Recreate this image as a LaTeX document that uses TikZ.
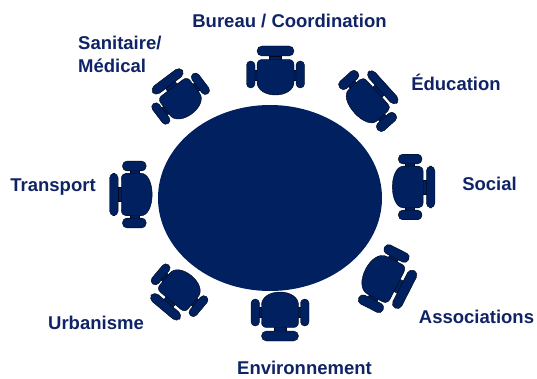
\documentclass[tikz,border=0pt]{standalone}
\usepackage{fontspec}
\setmainfont{Liberation Sans}
\usetikzlibrary{shapes.geometric}
\definecolor{navy}{HTML}{002060}
\definecolor{labelblue}{HTML}{0F2366}

\begin{document}
\begin{tikzpicture}[
    x = 1pt,
    y = 1pt,
    part/.style={draw=black!80!navy, line width=0.4pt, fill=navy},
    table/.style={draw=none, fill=navy, ellipse, inner sep=0pt, minimum width=224pt, minimum height=186pt},
    label/.style={text=labelblue, font=\bfseries\fontsize{18.5}{23}\selectfont, inner sep=0pt},
    chair/.pic={
        % neck and arm links
        \draw[part] (-6, 16) rectangle (6, 21);
        \draw[part] (-21, -3) rectangle (21, 7);
        % back and arms
        \draw[part, rounded corners=5pt] (-18.5, 21) rectangle (18.5, 31);
        \draw[part, rounded corners=4.2pt] (-29, -11) rectangle (-20.5, 16);
        \draw[part, rounded corners=4.2pt] (20.5, -11) rectangle (29, 16);
        % seat
        \draw[part] (0, 17.5) -- (-13, 17.5) .. controls (-16.5, 17.5) and (-18.5, 15.5) .. (-18.5, 12)
            -- (-18.5, -5) .. controls (-18.5, -13) and (-10, -18) .. (0, -18)
            .. controls (10, -18) and (18.5, -13) .. (18.5, -5)
            -- (18.5, 12) .. controls (18.5, 15.5) and (16.5, 17.5) .. (13, 17.5) -- cycle;
    }
]
    \useasboundingbox (0, 0) rectangle (537, 378);

    % Table
    \node (table) at (270, 180) [table] {};

    % Chairs
    \pic at (275.5, 301) {chair};
    \pic[rotate=-48, xscale=1.14, yscale=0.87] at (366, 275.6) {chair};
    \pic[rotate=-90, xscale=1.13, yscale=0.87] at (408, 191) {chair};
    \pic[rotate=-117, xscale=1.14, yscale=1] at (381.5, 100.5) {chair};
    \pic[rotate=180] at (280, 68) {chair};
    \pic[rotate=140, yscale=0.92] at (181, 89.5) {chair};
    \pic[rotate=90, xscale=1.15, yscale=0.87] at (136.5, 183.5) {chair};
    \pic[rotate=37, yscale=0.92] at (182, 277.5) {chair};

    % Labels
    \node (bureau) at (289.5, 357) [label] {Bureau / Coordination};
    \node (sanitaire) at (78, 324) [label, anchor=west, align=left] {Sanitaire/\\Médical};
    \node (education) at (456, 296) [label] {Éducation};
    \node (social) at (489.5, 194) [label] {Social};
    \node (transport) at (53, 191) [label] {Transport};
    \node (associations) at (476.5, 61) [label] {Associations};
    \node (urbanisme) at (96, 55) [label] {Urbanisme};
    \node (environnement) at (304.5, 10) [label] {Environnement};
\end{tikzpicture}
\end{document}
